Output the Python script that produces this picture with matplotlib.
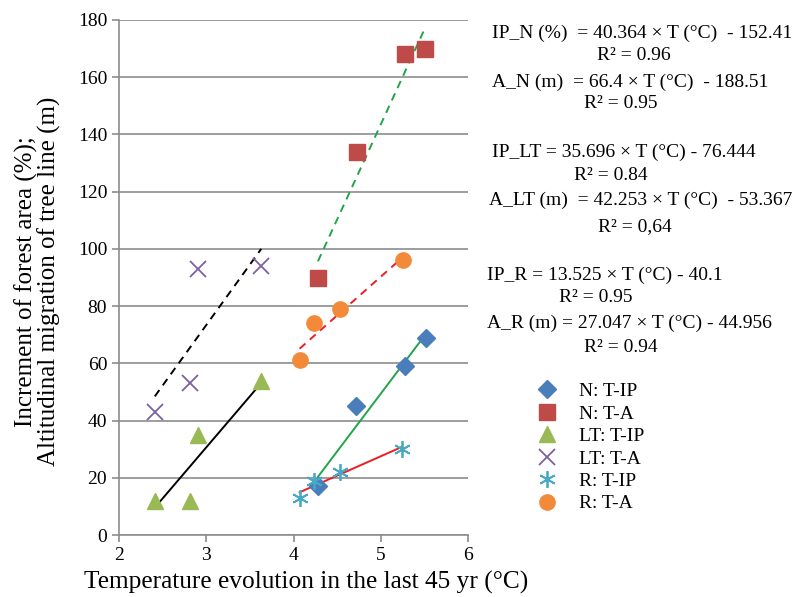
import matplotlib
matplotlib.use("Agg")
import matplotlib.pyplot as plt
import numpy as np

plt.rcParams['font.family'] = ['Liberation Serif', 'DejaVu Serif']

# Scatter data
n_ip_t = [4.28, 4.72, 5.28, 5.52]
n_ip = [17, 45, 59, 69]
n_a_t = [4.28, 4.73, 5.28, 5.51]
n_a = [90, 134, 168, 170]
lt_ip_t = [2.41, 2.81, 2.91, 3.63]
lt_ip = [12, 12, 35, 54]
lt_a_t = [2.41, 2.81, 2.91, 3.63]
lt_a = [43, 53, 93, 94]
r_ip_t = [4.07, 4.23, 4.53, 5.24]
r_ip = [13, 19, 22, 30]
r_a_t = [4.07, 4.23, 4.53, 5.25]
r_a = [61, 74, 79, 96]

# Trend line coefficients (slope, intercept) from the equations
fits = {
    "IP_N": (40.364, -152.41),
    "A_N": (66.4, -188.51),
    "IP_LT": (35.696, -76.444),
    "A_LT": (42.253, -53.367),
    "IP_R": (13.525, -40.1),
    "A_R": (27.047, -44.956),
}

fig = plt.figure(figsize=(8.01, 5.97), dpi=100)
ax = fig.add_axes([0.1486, 0.1038, 0.4357, 0.8627])

def trend(t, key, color, ls):
    m, b = fits[key]
    x = np.array([min(t), max(t)])
    ax.plot(x, m * x + b, color=color, ls=ls, lw=1.4, zorder=2)

trend(n_ip_t, "IP_N", "#1FA54A", "-")
trend(n_a_t, "A_N", "#1FA54A", (0, (4, 3)))
trend(lt_ip_t, "IP_LT", "black", "-")
trend(lt_a_t, "A_LT", "black", (0, (4, 3)))
trend(r_ip_t, "IP_R", "#EE1C24", "-")
trend(r_a_t, "A_R", "#EE1C24", (0, (4, 3)))

ax.plot(n_ip_t, n_ip, 'D', color="#4A7EBB", ms=9, ls='none', label="N: T-IP", zorder=3)
ax.plot(n_a_t, n_a, 's', color="#BE4B48", ms=11, ls='none', label="N: T-A", zorder=3)
ax.plot(lt_ip_t, lt_ip, '^', color="#98B954", ms=11, ls='none', label="LT: T-IP", zorder=3)
ax.plot(lt_a_t, lt_a, 'x', color="#7D60A0", ms=11, mew=1.3, ls='none', label="LT: T-A", zorder=3)
ax.plot(r_ip_t, r_ip, marker=(6, 2, 0), color="#46AAC5", ms=12, mew=1.3, ls='none', label="R: T-IP", zorder=3)
ax.plot(r_a_t, r_a, 'o', color="#F38A3A", ms=11, ls='none', label="R: T-A", zorder=3)

ax.set_xlim(2, 6)
ax.set_ylim(0, 180)
ax.set_xticks([2, 3, 4, 5, 6])
ax.set_yticks(range(0, 181, 20))
ax.yaxis.grid(True, color="#8C8C8C", lw=1.2)
ax.set_axisbelow(True)
for s in ['top', 'right']:
    ax.spines[s].set_visible(False)
for s in ['left', 'bottom']:
    ax.spines[s].set_color("#8C8C8C")
    ax.spines[s].set_linewidth(1.2)
ax.tick_params(axis='both', colors="#8C8C8C", labelcolor="black", labelsize=14, length=5, width=1.2)

fig.text(0.382, 0.024, "Temperature evolution in the last 45 yr (°C)", fontsize=18.3, ha='center', va='center')
fig.text(0.047, 0.528, "Increment of forest area (%);\nAltitudinal migration of tree line (m)",
         fontsize=18, ha='center', va='center', rotation=90, linespacing=1.0)

H = 597.0
W = 801.0
eqs = [
    ("IP_N (%)  = 40.364 × T (°C)  - 152.41", 492, 33, 'left'),
    ("R² = 0.96", 634, 55, 'center'),
    ("A_N (m)  = 66.4 × T (°C)  - 188.51", 492, 82, 'left'),
    ("R² = 0.95", 621, 103, 'center'),
    ("IP_LT = 35.696 × T (°C) - 76.444", 492, 152, 'left'),
    ("R² = 0.84", 611, 175, 'center'),
    ("A_LT (m)  = 42.253 × T (°C)  - 53.367", 489, 200, 'left'),
    ("R² = 0,64", 635, 227, 'center'),
    ("IP_R = 13.525 × T (°C) - 40.1", 487, 275, 'left'),
    ("R² = 0.95", 596, 297, 'center'),
    ("A_R (m) = 27.047 × T (°C) - 44.956", 487, 323, 'left'),
    ("R² = 0.94", 621, 348, 'center'),
]
for txt, x, y, ha in eqs:
    fig.text(x / W, 1 - y / H, txt, fontsize=14, ha=ha, va='center')

fig.legend(loc='upper left', bbox_to_anchor=(515 / W, 1 - 365 / H), frameon=False,
           fontsize=14, handletextpad=0.9, labelspacing=0.25, handlelength=1.5)

fig.savefig("out.png", dpi=100)
